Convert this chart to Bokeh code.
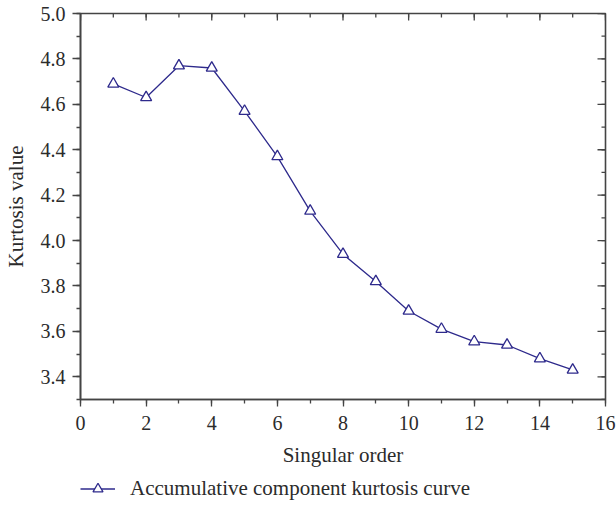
import math
from bokeh.plotting import figure
from bokeh.layouts import column
from bokeh.models import Range1d, Legend, LegendItem, FixedTicker, CustomJSTickFormatter
from bokeh.embed import file_html
from bokeh.resources import INLINE

# Kurtosis of the accumulated components by singular order
singular_order = [1, 2, 3, 4, 5, 6, 7, 8, 9, 10, 11, 12, 13, 14, 15]
kurtosis = [4.69, 4.63, 4.77, 4.76, 4.57, 4.37, 4.13, 3.94, 3.82,
            3.69, 3.61, 3.555, 3.54, 3.48, 3.43]
series_name = "Accumulative component kurtosis curve"

x_ticks = [0, 2, 4, 6, 8, 10, 12, 14, 16]
y_ticks = [3.4, 3.6, 3.8, 4.0, 4.2, 4.4, 4.6, 4.8, 5.0]
x_minor = list(range(0, 17))
y_minor = [round(3.3 + 0.1 * i, 1) for i in range(18)]
X0, X1, Y0, Y1 = 0, 16, 3.3, 5.0

FONT = "Liberation Serif"
TEXT = "#2b2b2b"
AXIS = "#444444"
SERIES = "#2e2a8c"

p = figure(width=616, height=471, output_backend="svg", toolbar_location=None,
           x_range=Range1d(X0, X1), y_range=Range1d(Y0, Y1),
           x_axis_label="Singular order", y_axis_label="Kurtosis value",
           min_border_left=78, min_border_right=11, min_border_top=13,
           min_border_bottom=72)
p.grid.visible = False
p.outline_line_color = AXIS
p.outline_line_width = 1.6
p.background_fill_color = "white"
p.border_fill_color = "white"

# left / bottom axes: labelled, ticks pointing out
for ax in (p.xaxis[0], p.yaxis[0]):
    ax.axis_line_color = AXIS
    ax.axis_line_width = 1.6
    ax.major_tick_line_color = AXIS
    ax.minor_tick_line_color = AXIS
    ax.major_tick_line_width = 1.3
    ax.minor_tick_line_width = 1.3
    ax.major_tick_in = 0
    ax.minor_tick_in = 0
    ax.major_label_text_font = FONT
    ax.major_label_text_font_size = "20px"
    ax.major_label_text_color = TEXT
    ax.axis_label_text_font = FONT
    ax.axis_label_text_font_size = "21px"
    ax.axis_label_text_font_style = "normal"
    ax.axis_label_text_color = TEXT

p.xaxis[0].ticker = FixedTicker(ticks=x_ticks, minor_ticks=x_minor)
p.yaxis[0].ticker = FixedTicker(ticks=y_ticks, minor_ticks=y_minor)
p.yaxis[0].formatter = CustomJSTickFormatter(code="return tick.toFixed(1);")
p.xaxis[0].major_tick_out = 7
p.xaxis[0].minor_tick_out = 4
p.xaxis[0].major_label_standoff = 9
p.xaxis[0].axis_label_standoff = 10
p.yaxis[0].major_tick_out = 8
p.yaxis[0].minor_tick_out = 4
p.yaxis[0].major_label_standoff = 7
p.yaxis[0].axis_label_standoff = 10

# mirrored ticks on the top and right edges, pointing into the frame
# (dashes centred on the edge; the frame clips the outer half)
tick_kw = dict(marker="dash", line_color=AXIS, line_width=1.3)
p.scatter(x_ticks, [Y1] * len(x_ticks), size=14, angle=math.pi / 2, **tick_kw)
p.scatter(x_minor, [Y1] * len(x_minor), size=8, angle=math.pi / 2, **tick_kw)
p.scatter([X1] * len(y_ticks), y_ticks, size=16, **tick_kw)
p.scatter([X1] * len(y_minor), y_minor, size=8, **tick_kw)

line_style = dict(line_color=SERIES, line_width=1.3)
marker_style = dict(marker="triangle", fill_color="white", line_color=SERIES, line_width=1.3)

p.line(singular_order, kurtosis, **line_style)
p.scatter(singular_order, kurtosis, size=11, **marker_style)

# legend strip underneath the chart; its sample glyphs sit outside the strip's ranges
leg = figure(width=616, height=40, output_backend="svg", toolbar_location=None,
             x_range=Range1d(0, 1), y_range=Range1d(0, 1),
             x_axis_location=None, y_axis_location=None,
             min_border_left=0, min_border_right=0, min_border_top=0, min_border_bottom=0)
leg.grid.visible = False
leg.outline_line_color = None
leg.border_fill_color = "white"
leg_line = leg.line([5, 6], [5, 5], **line_style)
leg_pts = leg.scatter([5], [5], size=11, **marker_style)

legend = Legend(items=[LegendItem(label=series_name, renderers=[leg_line, leg_pts])],
                location=(0, 10), orientation="horizontal",
                glyph_width=35, glyph_height=25, label_height=25,
                label_standoff=15, padding=0, margin=0, spacing=0,
                border_line_color=None, background_fill_alpha=0,
                label_text_font=FONT, label_text_font_size="21px",
                label_text_color=TEXT)
leg.add_layout(legend, "center")

layout = column(p, leg, spacing=0)
open("out.html", "w").write(file_html(layout, INLINE))
